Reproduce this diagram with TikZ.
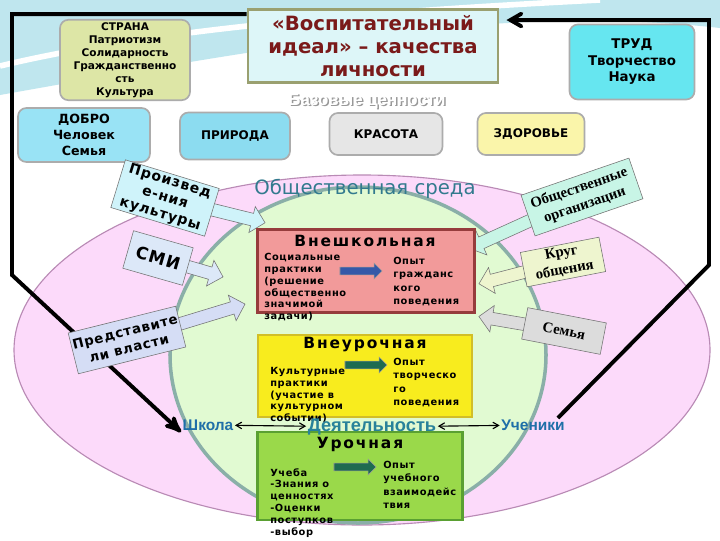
\documentclass[tikz,border=0pt]{standalone}
\usepackage{fontspec}
\setmainfont{DejaVu Sans}
\newfontfamily\serlab{Liberation Serif}
\newfontfamily\arlab{Liberation Sans}
\newfontfamily\smalltxt[LetterSpace=6]{DejaVu Sans}
\newfontfamily\spacedsans[LetterSpace=6]{DejaVu Sans}
\newfontfamily\widetitle[LetterSpace=12]{DejaVu Sans}
\usetikzlibrary{arrows,calc,positioning,shapes.arrows}

\definecolor{skytop}{HTML}{BFE6EE}
\definecolor{pinkbg}{HTML}{FCDAFA}
\definecolor{pinkrim}{HTML}{B98AB5}
\definecolor{greenbg}{HTML}{E1FAD2}
\definecolor{greenrim}{HTML}{8AAFA8}
\definecolor{envteal}{HTML}{327A8E}
\definecolor{titlefill}{HTML}{DDF6F8}
\definecolor{titlerim}{HTML}{9AA070}
\definecolor{titlered}{HTML}{7A1A1A}
\definecolor{stranafill}{HTML}{DDE6A6}
\definecolor{trudfill}{HTML}{66E6F0}
\definecolor{dobrofill}{HTML}{99E3F5}
\definecolor{prirfill}{HTML}{8CDCF0}
\definecolor{krasfill}{HTML}{E6E6E6}
\definecolor{zdorfill}{HTML}{FAF5AA}
\definecolor{redfill}{HTML}{F29A9A}
\definecolor{redrim}{HTML}{963C3C}
\definecolor{yelfill}{HTML}{F8EC1E}
\definecolor{yelrim}{HTML}{D2BE28}
\definecolor{grnfill}{HTML}{9AD94A}
\definecolor{grnrim}{HTML}{5AA032}
\definecolor{arrblue}{HTML}{3558A8}
\definecolor{arrgreen}{HTML}{1E6B50}
\definecolor{schoolblue}{HTML}{1F6FA8}
\definecolor{actteal}{HTML}{28829A}
\definecolor{proizfill}{HTML}{CFF3FA}
\definecolor{smifill}{HTML}{DCE8F8}
\definecolor{predfill}{HTML}{D5DDF5}
\definecolor{obshfill}{HTML}{C8F5E6}
\definecolor{krugfill}{HTML}{EEF5CF}
\definecolor{semfill}{HTML}{DCDCDC}

\newcommand\blockarrow[5][]{%
  \path let \p1=($(#4)-(#3)$), \n1={atan2(\y1,\x1)}, \n2={veclen(\x1,\y1)} in
    node[barrow, #1, fill=#5, rotate=\n1, minimum height=\n2] (#2) at ($(#3)!0.5!(#4)$) {};}

\begin{document}
\begin{tikzpicture}[x=0.025cm,y=-0.025cm,>=angle 60,
    valbox/.style={draw=gray!65,line width=1.2pt,rounded corners=6pt,align=center,inner sep=2pt},
    actbox/.style={draw,line width=1.5pt,inner sep=0pt},
    acttitle/.style={font=\widetitle\bfseries\fontsize{11}{13}\selectfont},
    smalltext/.style={font=\smalltxt\bfseries\fontsize{7}{8.4}\selectfont,align=left,anchor=north west,inner sep=0pt},
    smallright/.style={smalltext,font=\smalltxt\bfseries\fontsize{7}{9.5}\selectfont},
    callout/.style={draw=black!55,thin,align=center,inner sep=1pt},
    barrow/.style={single arrow,draw=black!55,thin,minimum width=1pt,inner xsep=0pt,inner ysep=4.3pt,
      single arrow head extend=5pt},
    inarrow/.style={draw=black!40,inner ysep=2.6pt,single arrow head extend=2.8pt},
    feedback/.style={line width=2.8pt,black},
    centre/.style={font=\arlab\bfseries\fontsize{11}{13}\selectfont,text=schoolblue,inner sep=1pt}]
\useasboundingbox (0,0) rectangle (720,540);
\fill[white] (0,0) rectangle (720,540);
\fill[skytop] (0,0) -- (720,0) -- (720,28) .. controls (520,6) and (330,36) .. (0,95) -- cycle;
\draw[white,line width=4pt] (0,66) .. controls (150,30) and (360,12) .. (600,0);

\draw[pinkrim,fill=pinkbg,line width=0.8pt] (362,350) ellipse [x radius=348, y radius=175];
\draw[greenrim,fill=greenbg,line width=2.5pt] (358,355) ellipse [x radius=188, y radius=168];
\node[font=\fontsize{14}{16}\selectfont,text=envteal] (env) at (365,189) {Общественная среда};

\node[draw=titlerim,line width=2pt,fill=titlefill,minimum width=6.25cm,minimum height=1.825cm,
  align=center,text=titlered,font=\bfseries\fontsize{14}{16.5}\selectfont] (ideal) at (373,46)
  {«Воспитательный\\идеал» – качества\\личности};
\node[text=gray!80,font=\arlab\bfseries\fontsize{12}{14}\selectfont] (base-sh) at (368.5,102) {Базовые ценности};
\node[text=white,font=\arlab\bfseries\fontsize{12}{14}\selectfont] (base) at (367,101) {Базовые ценности};

\node[valbox,fill=stranafill,minimum width=3.25cm,minimum height=2cm,
  font=\bfseries\fontsize{7.5}{9.2}\selectfont] (strana) at (125,60)
  {СТРАНА\\Патриотизм\\Солидарность\\Гражданственно\\сть\\Культура};
\node[valbox,fill=trudfill,minimum width=3.125cm,minimum height=1.875cm,
  font=\bfseries\fontsize{9.5}{11.7}\selectfont] (trud) at (632,62) {ТРУД\\Творчество\\Наука};
\node[valbox,fill=dobrofill,minimum width=3.3cm,minimum height=1.35cm,
  font=\bfseries\fontsize{9}{11.5}\selectfont] (dobro) at (84,135) {ДОБРО\\Человек\\Семья};
\node[valbox,fill=prirfill,minimum width=2.75cm,minimum height=1.175cm,
  font=\bfseries\fontsize{8.5}{10}\selectfont] (priroda) at (235,136) {ПРИРОДА};
\node[valbox,fill=krasfill,minimum width=2.825cm,minimum height=1.05cm,
  font=\bfseries\fontsize{8.5}{10}\selectfont] (krasota) at (386,134) {КРАСОТА};
\node[valbox,fill=zdorfill,minimum width=2.675cm,minimum height=1.05cm,
  font=\bfseries\fontsize{8.5}{10}\selectfont] (zdorovie) at (531,134) {ЗДОРОВЬЕ};

\node[centre] (shkola) at (208,425) {Школа};
\node[centre] (ucheniki) at (533,425) {Ученики};
\coordinate (bendl) at (12,275);
\coordinate (bendr) at (709,265);
\draw[feedback,-stealth'] ([yshift=-4.3pt]ideal.north west) -| (bendl) -- (shkola.south west);
\draw[feedback,-angle 60] ([xshift=-6pt]ucheniki.north east) -- (bendr) |- ([xshift=5pt,yshift=-8.5pt]ideal.north east);

\coordinate (proizv-c) at (165,198);
\coordinate (proizv-tip) at (262,222);
\coordinate (smi-c) at (158,258);
\coordinate (smi-tip) at (220,276);
\coordinate (predst-c) at (127,340);
\coordinate (predst-tip) at (242,305);
\coordinate (obshch-c) at (582,197);
\coordinate (obshch-tip) at (472,247);
\coordinate (krug-c) at (563,262);
\coordinate (krug-tip) at (482,283);
\coordinate (semya-c) at (564,331);
\coordinate (semya-tip) at (482,317);
\blockarrow{proizv-arr}{proizv-c}{proizv-tip}{proizfill}
\blockarrow{smi-arr}{smi-c}{smi-tip}{smifill}
\blockarrow{predst-arr}{predst-c}{predst-tip}{predfill}
\blockarrow{obshch-arr}{obshch-c}{obshch-tip}{obshfill}
\blockarrow{krug-arr}{krug-c}{krug-tip}{krugfill}
\blockarrow{semya-arr}{semya-c}{semya-tip}{semfill}
\node[callout,fill=proizfill,rotate=-17,minimum width=2.45cm,minimum height=1.075cm,
  font=\spacedsans\bfseries\fontsize{10}{12}\selectfont] (proizv) at (proizv-c) {Произвед\\е-ния\\культуры};
\node[callout,fill=smifill,rotate=-16,minimum width=1.55cm,minimum height=0.975cm,
  font=\spacedsans\bfseries\fontsize{12}{14}\selectfont] (smi) at (smi-c) {СМИ};
\node[callout,fill=predfill,rotate=14,minimum width=2.7cm,minimum height=1.05cm,
  font=\spacedsans\bfseries\fontsize{9.5}{12}\selectfont] (predst) at (predst-c) {Представите\\ли власти};
\node[callout,fill=obshfill,rotate=19,minimum width=2.85cm,minimum height=1.075cm,
  font=\serlab\bfseries\fontsize{10.5}{12.5}\selectfont] (obshch) at (obshch-c) {Общественные\\организации};
\node[callout,fill=krugfill,rotate=11,minimum width=2cm,minimum height=0.875cm,
  font=\serlab\bfseries\fontsize{10.5}{12.5}\selectfont] (krug) at (krug-c) {Круг\\общения};
\node[callout,fill=semfill,rotate=-11,minimum width=2cm,minimum height=0.8cm,
  font=\serlab\bfseries\fontsize{10.5}{12.5}\selectfont] (semya) at (semya-c) {Семья};

\node[actbox,draw=redrim,fill=redfill,minimum width=5.425cm,minimum height=2.075cm] (vneshk) at (366,271) {};
\node[acttitle] (vneshk-t) at (365,241) {Внешкольная};
\node[smalltext] (vneshk-l) at (264,253) {Социальные\\практики\\(решение\\общественно\\значимой\\задачи)};
\node[smallright] (vneshk-r) at (393,257) {Опыт\\гражданс\\кого\\поведения};
\coordinate (vneshk-a1) at (338,271);
\coordinate (vneshk-a2) at (380,271);
\blockarrow[inarrow]{vneshk-arr}{vneshk-a1}{vneshk-a2}{arrblue}

\node[actbox,draw=yelrim,fill=yelfill,minimum width=5.35cm,minimum height=2.05cm] (vneur) at (365,376) {};
\node[acttitle] (vneur-t) at (365,345) {Внеурочная};
\node[smalltext] (vneur-l) at (270,367) {Культурные\\практики\\(участие в\\культурном\\событии)};
\node[smallright] (vneur-r) at (393,358) {Опыт\\творческо\\го\\поведения};
\coordinate (vneur-a1) at (343,365);
\coordinate (vneur-a2) at (385,365);
\blockarrow[inarrow]{vneur-arr}{vneur-a1}{vneur-a2}{arrgreen}

\node[actbox,draw=grnrim,fill=grnfill,minimum width=5.125cm,minimum height=2.2cm] (uroch) at (360,476) {};
\node[acttitle] (uroch-t) at (360,444) {Урочная};
\node[smalltext] (uroch-l) at (270,468) {Учеба\\-Знания о\\ценностях\\-Оценки\\поступков\\-выбор};
\node[smallright] (uroch-r) at (383,461) {Опыт\\учебного\\взаимодейс\\твия};
\coordinate (uroch-a1) at (332,467);
\coordinate (uroch-a2) at (374,467);
\blockarrow[inarrow]{uroch-arr}{uroch-a1}{uroch-a2}{arrgreen}

\node[centre,text=actteal,font=\arlab\bfseries\fontsize{13}{15}\selectfont] (deyat) at (372,427) {Деятельность};
\draw[<->,thick] (shkola) -- (deyat);
\draw[<->,thick] (deyat) -- (ucheniki);
\end{tikzpicture}
\end{document}
